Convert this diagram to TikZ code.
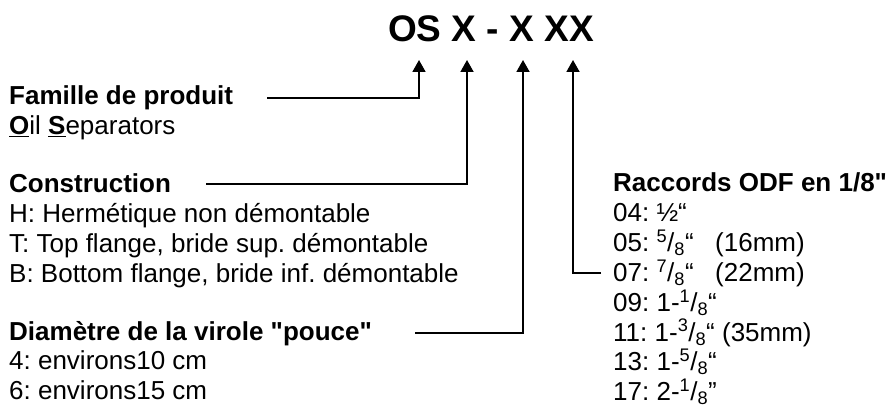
\documentclass[tikz,border=0pt]{standalone}
\usepackage{fontspec}
\setmainfont{Liberation Sans}[Ligatures=TeXOff]
\usetikzlibrary{arrows.meta}
\newcommand{\fs}{\fontsize{26}{30}\selectfont}
\newcommand{\ofrac}[2]{\textsuperscript{#1}/\textsubscript{#2}}
\def\rowsep{29.8pt}
\frenchspacing

\begin{document}
\begin{tikzpicture}[x=1pt, y=-1pt,
            row/.style={anchor=base west, inner sep=0pt, font=\fs},
            head/.style={row, font=\fs\bfseries},
            conn/.style={line width=1.8pt, -{Triangle[length=12pt,width=13pt]}},
        ]
        \useasboundingbox (0,0) rectangle (891,406);

        \node[anchor=base west, inner sep=0pt, font=\fontsize{37}{44}\selectfont\bfseries] (code) at (388,42) {OS X - X XX};
        \coordinate (tipOS) at (419,60);
        \coordinate (tipX1) at (467,60);
        \coordinate (tipX2) at (523,60);
        \coordinate (tipXX) at (573,60);

        % left column
        \node[head] (famille) at (9,105) {Famille de produit};
        \node[row] (oil) at ([yshift=-\rowsep]famille.base west) {\underline{\textbf{O}}il \underline{\textbf{S}}eparators};

        \node[head] (constr) at (9,193) {Construction};
        \node[row] (ch) at ([yshift=-\rowsep]constr.base west) {H: Hermétique non démontable};
        \node[row] (ct) at ([yshift=-\rowsep]ch.base west) {T: Top flange, bride sup. démontable};
        \node[row] (cb) at ([yshift=-\rowsep]ct.base west) {B: Bottom flange, bride inf. démontable};

        \node[head] (diam) at (9,340) {Diamètre de la virole "pouce"};
        \node[row] (d4) at ([yshift=-\rowsep]diam.base west) {4: environs10 cm};
        \node[row] (d6) at ([yshift=-\rowsep]d4.base west) {6: environs15 cm};

        % right column
        \node[head] (racc) at (613,192) {Raccords ODF en 1/8"};
        \node[row] (r04) at ([yshift=-\rowsep]racc.base west) {04: ½“};
        \node[row] (r05) at ([yshift=-\rowsep]r04.base west) {\makebox[102pt][l]{05: \ofrac{5}{8}“}(16mm)};
        \node[row] (r07) at ([yshift=-\rowsep]r05.base west) {\makebox[102pt][l]{07: \ofrac{7}{8}“}(22mm)};
        \node[row] (r09) at ([yshift=-\rowsep]r07.base west) {09: 1-\ofrac{1}{8}“};
        \node[row] (r11) at ([yshift=-\rowsep]r09.base west) {11: 1-\ofrac{3}{8}“ (35mm)};
        \node[row] (r13) at ([yshift=-\rowsep]r11.base west) {13: 1-\ofrac{5}{8}“};
        \node[row] (r17) at ([yshift=-\rowsep]r13.base west) {17: 2-\ofrac{1}{8}”};

        \draw[conn] ([xshift=34pt]famille.east) -| (tipOS);
        \draw[conn] ([xshift=35pt]constr.east) -| (tipX1);
        \draw[conn] ([xshift=43pt]diam.east) -| (tipX2);
        \draw[conn] ([xshift=-12pt]r07.west) -| (tipXX);
    \end{tikzpicture}
\end{document}
